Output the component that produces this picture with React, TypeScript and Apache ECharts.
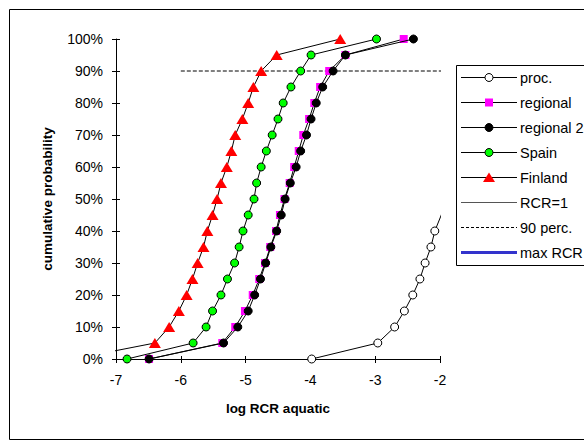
import React, { useEffect, useRef } from "react";
import * as echarts from "echarts";

// cumulative probability levels (fraction)
const probabilities = [0, 0.05, 0.1, 0.15, 0.2, 0.25, 0.3, 0.35, 0.4, 0.45, 0.5, 0.55, 0.6, 0.65, 0.7, 0.75, 0.8, 0.85, 0.9, 0.95, 1.0];

// log RCR aquatic values per series (same order as probabilities)
const procX = [-3.98, -2.96, -2.70, -2.55, -2.42, -2.31, -2.23, -2.14, -2.08, -1.98, -1.91, -1.83];
const regionalX = [-6.49, -5.36, -5.16, -5.01, -4.89, -4.79, -4.70, -4.62, -4.53, -4.47, -4.40, -4.32, -4.25, -4.18, -4.11, -4.02, -3.94, -3.85, -3.71, -3.46, -2.56];
const regional2X = [-6.49, -5.34, -5.12, -4.96, -4.86, -4.77, -4.69, -4.61, -4.52, -4.45, -4.39, -4.31, -4.22, -4.15, -4.06, -3.99, -3.91, -3.81, -3.65, -3.46, -2.41];
const spainX = [-6.83, -5.81, -5.61, -5.51, -5.38, -5.28, -5.17, -5.10, -5.04, -4.96, -4.87, -4.83, -4.76, -4.68, -4.59, -4.50, -4.42, -4.30, -4.15, -3.99, -2.98];
const finlandX = [-7.66, -6.40, -6.18, -6.03, -5.91, -5.82, -5.74, -5.65, -5.59, -5.51, -5.44, -5.38, -5.29, -5.22, -5.16, -5.05, -4.96, -4.88, -4.76, -4.52, -3.54];

// reference lines
const rcr1Line = [[0, 0], [0, 1]];
const perc90Line = [[-6.0, 0.9], [-1.92, 0.9]];
const maxRcrLine: number[][] = [];

// axes
const xMin = -7;
const xMax = -2;
const yMin = 0;
const yMax = 1;

const seriesNames = ["proc.", "regional", "regional 2", "Spain", "Finland", "RCR=1", "90 perc.", "max RCR"];

const FONT = "'Liberation Sans', Arial, sans-serif";

function pairs(xs: number[]) {
  return xs.map((x, i) => [x, probabilities[i]]);
}

export default function App() {
  const ref = useRef<HTMLDivElement>(null);

  useEffect(() => {
    const chart = echarts.init(ref.current!, undefined, { renderer: "svg" });

    const lineStyle = { color: "#000", width: 1 };

    const legendRows = [
      { name: seriesNames[0], marker: "circle", fill: "#fff", stroke: "#000", line: "#000", w: 1 },
      { name: seriesNames[1], marker: "square", fill: "#ff00ff", stroke: "#ff00ff", line: "#000", w: 1 },
      { name: seriesNames[2], marker: "circle", fill: "#000", stroke: "#000", line: "#000", w: 1 },
      { name: seriesNames[3], marker: "circle", fill: "#00ff00", stroke: "#000", line: "#000", w: 1 },
      { name: seriesNames[4], marker: "triangle", fill: "#ff0000", stroke: "#ff0000", line: "#000", w: 1 },
      { name: seriesNames[5], marker: "none", line: "#555", w: 1 },
      { name: seriesNames[6], marker: "none", line: "#000", w: 1, dash: [3, 2] },
      { name: seriesNames[7], marker: "none", line: "#3333cc", w: 3 },
    ];

    const graphics: any[] = [
      {
        type: "rect",
        z: -1,
        shape: { x: 9.5, y: 9.5, width: 600, height: 430 },
        style: { fill: "transparent", stroke: "#000", lineWidth: 1 },
      },
      {
        type: "rect",
        shape: { x: 456.5, y: 65.5, width: 140, height: 200 },
        style: { fill: "#fff", stroke: "#000", lineWidth: 1 },
      },
    ];
    legendRows.forEach((r: any, i) => {
      const y = 77.5 + 25 * i;
      graphics.push({
        type: "line",
        shape: { x1: 461, y1: y, x2: 517, y2: y },
        style: { stroke: r.line, lineWidth: r.w, lineDash: r.dash || null },
      });
      if (r.marker === "circle") {
        graphics.push({ type: "circle", shape: { cx: 489, cy: y, r: 4 }, style: { fill: r.fill, stroke: r.stroke, lineWidth: 1 } });
      } else if (r.marker === "square") {
        graphics.push({ type: "rect", shape: { x: 485, y: y - 4, width: 8, height: 8 }, style: { fill: r.fill } });
      } else if (r.marker === "triangle") {
        graphics.push({ type: "polygon", shape: { points: [[489, y - 5], [495, y + 4.5], [483, y + 4.5]] }, style: { fill: r.fill } });
      }
      graphics.push({
        type: "text",
        x: 520,
        y,
        style: { text: r.name, fontSize: 14.5, fontFamily: FONT, fill: "#000", verticalAlign: "middle", align: "left" },
      });
    });

    const axisCommonLine = { show: true, lineStyle: { color: "#000", width: 1 } };

    const option: any = {
      animation: false,
      backgroundColor: "#fff",
      grid: { left: 116, top: 39, width: 324, height: 320, containLabel: false },
      xAxis: [
        {
          type: "value",
          min: xMin,
          max: xMax,
          interval: 1,
          position: "bottom",
          axisLine: { ...axisCommonLine, onZero: false },
          axisTick: { show: true, inside: false, length: 4, lineStyle: { color: "#000" } },
          axisLabel: { color: "#000", fontSize: 14, fontFamily: FONT, margin: 14 },
          splitLine: { show: false },
          name: "log RCR aquatic",
          nameLocation: "middle",
          nameGap: 42,
          nameTextStyle: { color: "#000", fontSize: 13.5, fontWeight: "bold", fontFamily: FONT },
        },
        {
          type: "value",
          min: xMin,
          max: xMax,
          interval: 1,
          position: "bottom",
          axisLine: { show: false, onZero: false },
          axisTick: { show: true, inside: true, length: 3, lineStyle: { color: "#000" } },
          axisLabel: { show: false },
          splitLine: { show: false },
        },
      ],
      yAxis: [
        {
          type: "value",
          min: yMin,
          max: yMax,
          interval: 0.1,
          position: "left",
          axisLine: { ...axisCommonLine, onZero: false },
          axisTick: { show: true, inside: false, length: 4, lineStyle: { color: "#000" } },
          axisLabel: {
            color: "#000",
            fontSize: 14,
            fontFamily: FONT,
            margin: 13,
            formatter: (v: number) => Math.round(v * 100) + "%",
          },
          splitLine: { show: false },
          name: "cumulative probability",
          nameLocation: "middle",
          nameGap: 62,
          nameTextStyle: { color: "#000", fontSize: 13.5, fontWeight: "bold", fontFamily: FONT },
        },
        {
          type: "value",
          min: yMin,
          max: yMax,
          interval: 0.1,
          position: "left",
          axisLine: { show: false, onZero: false },
          axisTick: { show: true, inside: true, length: 4, lineStyle: { color: "#000" } },
          axisLabel: { show: false },
          splitLine: { show: false },
        },
      ],
      graphic: graphics,
      series: [
        {
          name: seriesNames[0],
          type: "line",
          data: pairs(procX),
          symbol: "circle",
          symbolSize: 8,
          lineStyle,
          itemStyle: { color: "#fff", borderColor: "#000", borderWidth: 1 },
          clip: true,
          z: 2,
        },
        {
          name: seriesNames[1],
          type: "line",
          data: pairs(regionalX),
          symbol: "rect",
          symbolSize: 8,
          lineStyle,
          itemStyle: { color: "#ff00ff", borderWidth: 0 },
          clip: true,
          z: 3,
        },
        {
          name: seriesNames[2],
          type: "line",
          data: pairs(regional2X),
          symbol: "circle",
          symbolSize: 8,
          lineStyle,
          itemStyle: { color: "#000", borderColor: "#000", borderWidth: 1 },
          clip: true,
          z: 4,
        },
        {
          name: seriesNames[3],
          type: "line",
          data: pairs(spainX),
          symbol: "circle",
          symbolSize: 8,
          lineStyle,
          itemStyle: { color: "#00ff00", borderColor: "#000", borderWidth: 1 },
          clip: true,
          z: 5,
        },
        {
          name: seriesNames[4],
          type: "line",
          data: pairs(finlandX),
          symbol: "triangle",
          symbolSize: [12, 10],
          lineStyle,
          itemStyle: { color: "#ff0000", borderWidth: 0 },
          clip: true,
          z: 6,
        },
        {
          name: seriesNames[5],
          type: "line",
          data: rcr1Line,
          symbol: "none",
          lineStyle: { color: "#555", width: 1 },
          clip: true,
        },
        {
          name: seriesNames[6],
          type: "line",
          data: perc90Line,
          symbol: "none",
          lineStyle: { color: "#000", width: 1, type: [4, 2] },
          clip: false,
          z: 1,
        },
        {
          name: seriesNames[7],
          type: "line",
          data: maxRcrLine,
          symbol: "none",
          lineStyle: { color: "#3333cc", width: 3 },
          clip: true,
        },
      ],
    };

    chart.setOption(option);
    return () => chart.dispose();
  }, []);

  return (
    <div
      ref={ref}
      style={{ position: "fixed", left: 0, top: 0, width: 584, height: 448, background: "#fff" }}
    />
  );
}
